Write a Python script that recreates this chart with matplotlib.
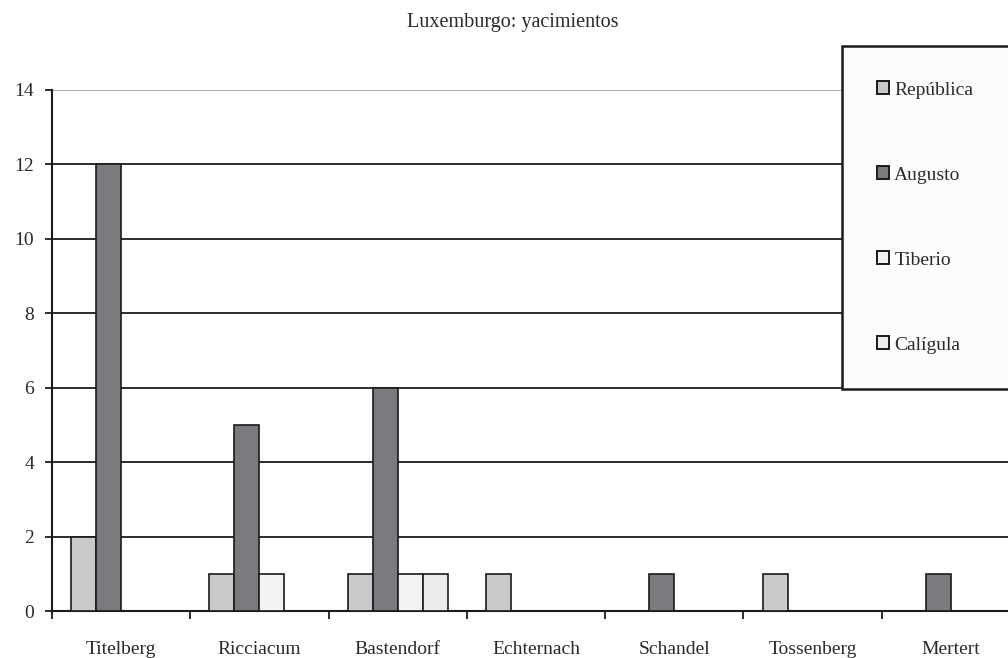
import numpy as np
import matplotlib
matplotlib.use("Agg")
import matplotlib.pyplot as plt
from matplotlib.ticker import FixedLocator, NullFormatter

plt.rcParams['font.family'] = ['Liberation Serif', 'DejaVu Serif']

sites = ["Titelberg", "Ricciacum", "Bastendorf", "Echternach",
         "Schandel", "Tossenberg", "Mertert"]
series = ["República", "Augusto", "Tiberio", "Calígula"]
republica = [2, 1, 1, 1, 0, 1, 0]
augusto = [12, 5, 6, 0, 1, 0, 1]
tiberio = [0, 1, 1, 0, 0, 0, 0]
caligula = [0, 0, 1, 0, 0, 0, 0]
y_ticks = [0, 2, 4, 6, 8, 10, 12, 14]

colors = ['#c8c9cb', '#7a7b7f', '#f2f2f2', '#ececec']
text_color = '#2a2a2a'

fig = plt.figure(figsize=(10.08, 6.58), dpi=100)
ax = fig.add_axes([52/1008, 1-611/658, 7*138.3/1008, (611-90)/658])

x = np.arange(len(sites))
width = 0.181
values = [republica, augusto, tiberio, caligula]
for i, (name, vals) in enumerate(zip(series, values)):
    offs = (i - 1.5) * width
    xs = [xi + offs for xi, v in zip(x, vals) if v > 0]
    vs = [v for v in vals if v > 0]
    ax.bar(xs, vs, width=width, color=colors[i], edgecolor='#1a1a1a',
           linewidth=1.2, zorder=3)
    # legend proxy
    ax.bar([0], [0], width=0, color=colors[i], edgecolor='#1a1a1a',
           linewidth=1.4, label=name)

ax.set_xlim(-0.5, len(sites) - 0.5)
ax.set_ylim(0, 14)

# gridlines
for yv in y_ticks[1:]:
    ax.axhline(yv, color='#a8a8a8' if yv == 14 else '#1a1a1a',
               linewidth=1.3, zorder=1)

ax.spines['top'].set_visible(False)
ax.spines['right'].set_visible(False)
for s in ['left', 'bottom']:
    ax.spines[s].set_linewidth(1.5)
    ax.spines[s].set_color('#1a1a1a')

ax.set_yticks(y_ticks)
ax.tick_params(axis='y', length=5, width=1.3, pad=8, labelsize=14,
               labelcolor=text_color, color='#1a1a1a')

ax.xaxis.set_major_locator(FixedLocator(np.arange(len(sites)) - 0.5))
ax.xaxis.set_major_formatter(NullFormatter())
ax.set_xticks(x, minor=True)
ax.set_xticklabels(sites, minor=True)
ax.tick_params(axis='x', which='major', length=6, width=1.3, color='#1a1a1a')
ax.tick_params(axis='x', which='minor', length=0, pad=21.5, labelsize=14,
               labelcolor=text_color)

fig.text(513/1008, 1-22/658, "Luxemburgo: yacimientos", ha='center',
         va='center', fontsize=14.5, color=text_color)

leg = ax.legend(loc='upper left', mode='expand',
                bbox_to_anchor=(842/1008, 1-46/658, 0.3, 0.0),
                bbox_transform=fig.transFigure, frameon=True, fancybox=False,
                fontsize=14, labelspacing=3.49, borderpad=1.82,
                borderaxespad=0, handlelength=0.62, handleheight=0.62,
                handletextpad=0.25, labelcolor=text_color)
leg.get_frame().set_edgecolor('#1a1a1a')
leg.get_frame().set_linewidth(1.8)
leg.get_frame().set_facecolor('#fcfcfc')
leg.get_frame().set_alpha(1)
leg.set_zorder(5)

fig.savefig("out.png", dpi=100)
